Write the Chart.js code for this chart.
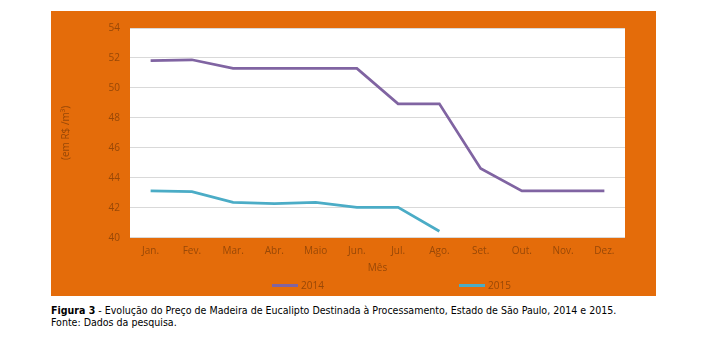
<!DOCTYPE html>
<html><head><meta charset="utf-8">
<script src="https://cdn.jsdelivr.net/npm/chart.js@4/dist/chart.umd.min.js"></script>
<style>
html,body{margin:0;padding:0;background:#fff;width:712px;height:355px;overflow:hidden;}
#box{position:absolute;left:51px;top:11px;width:605px;height:285px;background:#E46C0A;}
#box canvas{display:block}
.lg{position:absolute;top:278px;height:14px;display:flex;align-items:center;font:10px 'Open Sans';color:#984807;white-space:nowrap}
.lg i{display:inline-block;width:26px;height:3px;margin-right:3px}
#cap{position:absolute;left:51px;top:304px;font:10.55px 'DejaVu Sans Condensed','DejaVu Sans';font-stretch:condensed;line-height:12px;color:#000;white-space:nowrap}
</style></head><body>
<div id="box"><canvas id="c" width="605" height="285"></canvas></div>
<div id="legend"></div>
<div id="cap"><b>Figura 3</b> - Evolução do Preço de Madeira de Eucalipto Destinada à Processamento, Estado de São Paulo, 2014 e 2015.<br>Fonte: Dados da pesquisa.</div>
<script>
const months = ['Jan.','Fev.','Mar.','Abr.','Maio','Jun.','Jul.','Ago.','Set.','Out.','Nov.','Dez.'];
const seriesNames = ['2014','2015'];
const price2014 = [51.83,51.88,51.3,51.3,51.3,51.3,48.94,48.94,44.62,43.12,43.12,43.12];
const price2015 = [43.13,43.07,42.36,42.27,42.35,42.03,42.03,40.43,null,null,null,null];
const yMin = 40, yMax = 54, yStep = 2;
const yTitle = '(em R$ /m³)';
const xTitle = 'Mês';

const textColor = '#984807';
Chart.defaults.font.family = "'Open Sans'";
Chart.defaults.font.size = 10;
Chart.defaults.color = textColor;

const whiteArea = {
  id: 'whiteArea',
  beforeDraw(chart) {
    const {ctx, chartArea: a} = chart;
    ctx.save();
    ctx.fillStyle = '#ffffff';
    ctx.fillRect(a.left, a.top, a.right - a.left, a.bottom - a.top);
    ctx.restore();
  }
};

const chart = new Chart(document.getElementById('c'), {
  type: 'line',
  data: {
    labels: months,
    datasets: [
      {label: seriesNames[0], data: price2014, borderColor: '#8064A2', backgroundColor: '#8064A2', borderWidth: 2.75, pointRadius: 0, tension: 0},
      {label: seriesNames[1], data: price2015, borderColor: '#4BACC6', backgroundColor: '#4BACC6', borderWidth: 2.75, pointRadius: 0, tension: 0}
    ]
  },
  options: {
    responsive: false,
    animation: false,
    layout: {padding: {left: 0, right: 31, top: 17, bottom: 22}},
    plugins: {legend: {display: false}, tooltip: {enabled: false}},
    scales: {
      x: {
        offset: true,
        grid: {display: false, drawTicks: false},
        border: {display: false},
        ticks: {padding: 7, maxRotation: 0, autoSkip: false},
        title: {display: true, text: xTitle, padding: 0},
        afterFit(s) { s.height = 36.3; }
      },
      y: {
        min: yMin, max: yMax,
        grid: {color: '#D9D9D9', lineWidth: 1, drawTicks: false},
        border: {display: false},
        ticks: {stepSize: yStep, padding: 10},
        title: {display: true, text: yTitle, padding: {top: 9, bottom: 0}},
        afterFit(s) { s.width = 79; }
      }
    }
  },
  plugins: [whiteArea]
});

// HTML legend built from the chart's datasets
const legendLefts = [272, 459];
const legendEl = document.getElementById('legend');
chart.data.datasets.forEach((ds, i) => {
  const item = document.createElement('div');
  item.className = 'lg';
  item.style.left = legendLefts[i] + 'px';
  const sw = document.createElement('i');
  sw.style.background = ds.borderColor;
  item.appendChild(sw);
  item.appendChild(document.createTextNode(ds.label));
  legendEl.appendChild(item);
});
</script>
</body></html>
